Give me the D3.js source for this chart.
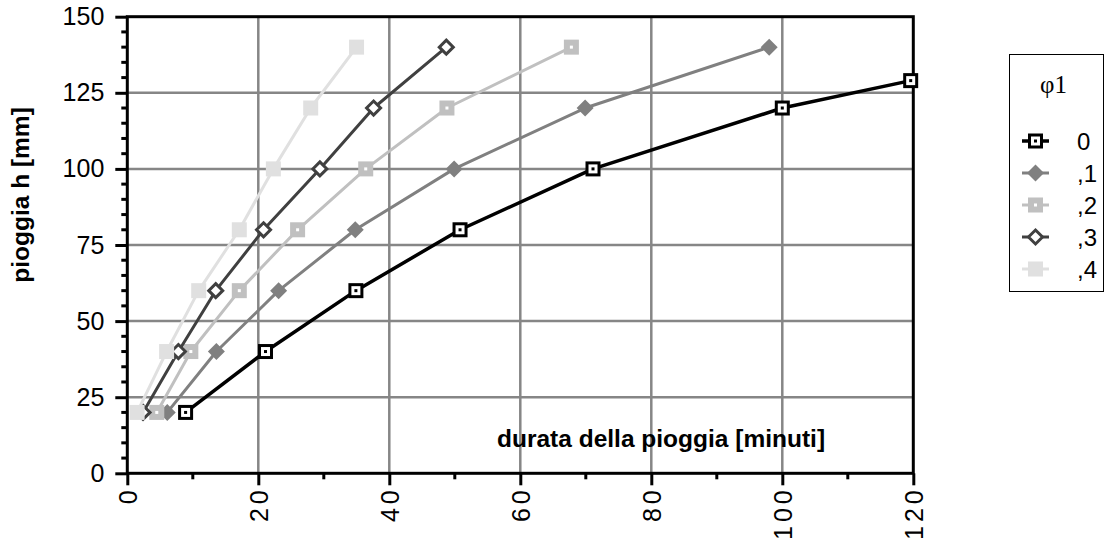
<!DOCTYPE html>
<html>
<head>
<meta charset="utf-8">
<script src="https://cdn.jsdelivr.net/npm/d3@7/dist/d3.min.js"></script>
<style>
  html, body { margin: 0; padding: 0; background: #fff; }
  svg { display: block; font-family: "Liberation Sans", Arial, Helvetica, sans-serif; }
</style>
</head>
<body>
<svg id="chart" width="1106" height="551"></svg>
<script>
// Rainfall depth h [mm] against duration t [minutes], one curve per φ1 value
const heights = [20, 40, 60, 80, 100, 120, 140];
const seriesNames = ["0", ",1", ",2", ",3", ",4"];
const durations0 = [8.9, 21.1, 34.9, 50.8, 71.1, 100.0, 119.6];
const heights0 = [20, 40, 60, 80, 100, 120, 129];
const durations1 = [6.1, 13.6, 23.1, 34.8, 49.9, 69.9, 98.0];
const durations2 = [4.5, 9.7, 17.1, 26.0, 36.4, 48.8, 67.8];
const durations3 = [2.4, 7.8, 13.5, 20.8, 29.4, 37.6, 48.7];
const durations4 = [1.5, 6.0, 10.9, 17.1, 22.3, 28.0, 35.0];
const xTicks = [0, 20, 40, 60, 80, 100, 120];
const yTicks = [0, 25, 50, 75, 100, 125, 150];
const legendTitle = "φ1";
const xTitle = "durata della pioggia [minuti]";
const yTitle = "pioggia h [mm]";

const series = [
  { name: seriesNames[0], t: durations0, h: heights0, color: "#000000", width: 3.5, marker: "squareDot" },
  { name: seriesNames[1], t: durations1, h: heights, color: "#808080", width: 3, marker: "diamondFill" },
  { name: seriesNames[2], t: durations2, h: heights, color: "#c0c0c0", width: 3, marker: "squareFillDot" },
  { name: seriesNames[3], t: durations3, h: heights, color: "#404040", width: 3, marker: "diamondOpen" },
  { name: seriesNames[4], t: durations4, h: heights, color: "#e0e0e0", width: 3, marker: "squareFill" }
];

const svg = d3.select("#chart");
const x = d3.scaleLinear().domain([0, 120]).range([127.3, 913.3]);
const y = d3.scaleLinear().domain([0, 150]).range([473.3, 16.7]);

// Grid
const grid = svg.append("g");
grid.selectAll("line.gx").data(xTicks.slice(1, -1)).join("line")
  .attr("x1", d => x(d)).attr("x2", d => x(d))
  .attr("y1", y(0)).attr("y2", y(150))
  .attr("stroke", "#868686").attr("stroke-width", 2.5);
grid.selectAll("line.gy").data(yTicks.slice(1, -1)).join("line")
  .attr("x1", x(0)).attr("x2", x(120))
  .attr("y1", d => y(d)).attr("y2", d => y(d))
  .attr("stroke", "#868686").attr("stroke-width", 2.5);

// Plot frame
svg.append("rect")
  .attr("x", x(0)).attr("y", y(150))
  .attr("width", x(120) - x(0)).attr("height", y(0) - y(150))
  .attr("fill", "none").attr("stroke", "#000").attr("stroke-width", 3);

// Y axis: major ticks every 25, minor every 5
const yAxis = svg.append("g").attr("transform", `translate(${x(0)},0)`)
  .call(d3.axisLeft(y).tickValues(yTicks).tickSize(12).tickPadding(11).tickFormat(d3.format("d")));
yAxis.select(".domain").remove();
yAxis.selectAll(".tick line").attr("stroke", "#000").attr("stroke-width", 3);
yAxis.selectAll(".tick text").attr("font-size", 25).attr("fill", "#000")
  .attr("font-family", "'Liberation Sans', Arial, sans-serif");
const yMinor = d3.range(0, 151, 5).filter(v => v % 25 !== 0);
svg.append("g").selectAll("line").data(yMinor).join("line")
  .attr("x1", x(0) - 6).attr("x2", x(0))
  .attr("y1", d => y(d)).attr("y2", d => y(d))
  .attr("stroke", "#000").attr("stroke-width", 3);

// X axis: major ticks every 20, minor every 10; labels read bottom-to-top
const xAxis = svg.append("g").attr("transform", `translate(0,${y(0)})`)
  .call(d3.axisBottom(x).tickValues(xTicks).tickSize(12).tickFormat(d3.format("d")));
xAxis.select(".domain").remove();
xAxis.selectAll(".tick line").attr("stroke", "#000").attr("stroke-width", 3);
xAxis.selectAll(".tick text")
  .attr("font-size", 25).attr("fill", "#000")
  .attr("font-family", "'Liberation Sans', Arial, sans-serif")
  .attr("letter-spacing", 4)
  .attr("text-anchor", "end")
  .attr("dy", null)
  .attr("transform", "translate(9,13) rotate(-90)")
  .attr("x", 0).attr("y", 0);
const xMinor = d3.range(10, 120, 20);
svg.append("g").selectAll("line").data(xMinor).join("line")
  .attr("x1", d => x(d)).attr("x2", d => x(d))
  .attr("y1", y(0)).attr("y2", y(0) + 6)
  .attr("stroke", "#000").attr("stroke-width", 3);

// Axis titles
svg.append("text").attr("x", 497).attr("y", 447)
  .attr("font-size", 24.5).attr("font-weight", "bold").attr("fill", "#000")
  .text(xTitle);
svg.append("text")
  .attr("transform", "translate(29,195) rotate(-90)")
  .attr("text-anchor", "middle")
  .attr("font-size", 24.5).attr("font-weight", "bold").attr("fill", "#000")
  .text(yTitle);

// Marker drawing
function drawMarker(g, type, color, cx, cy) {
  if (type === "squareDot") {
    g.append("rect").attr("x", cx - 6).attr("y", cy - 6).attr("width", 12).attr("height", 12)
      .attr("fill", "#fff").attr("stroke", color).attr("stroke-width", 3);
    g.append("rect").attr("x", cx - 1.5).attr("y", cy - 1.5).attr("width", 3).attr("height", 3).attr("fill", color);
  } else if (type === "squareFillDot") {
    g.append("rect").attr("x", cx - 7.5).attr("y", cy - 7.5).attr("width", 15).attr("height", 15).attr("fill", color);
    g.append("rect").attr("x", cx - 1.5).attr("y", cy - 1.5).attr("width", 3).attr("height", 3).attr("fill", "#fff");
  } else if (type === "squareFill") {
    g.append("rect").attr("x", cx - 7.5).attr("y", cy - 7.5).attr("width", 15).attr("height", 15).attr("fill", color);
  } else if (type === "diamondFill") {
    g.append("path").attr("d", `M${cx},${cy - 8.5}L${cx + 8.5},${cy}L${cx},${cy + 8.5}L${cx - 8.5},${cy}Z`)
      .attr("fill", color);
  } else if (type === "diamondOpen") {
    g.append("path").attr("d", `M${cx},${cy - 7}L${cx + 7},${cy}L${cx},${cy + 7}L${cx - 7},${cy}Z`)
      .attr("fill", "#fff").attr("stroke", color).attr("stroke-width", 3);
  }
}

// Curves
const line = d3.line().x(d => x(d[0])).y(d => y(d[1]));
series.forEach(s => {
  const pts = s.t.map((t, i) => [t, s.h[i]]);
  const g = svg.append("g");
  g.append("path").datum(pts).attr("d", line)
    .attr("fill", "none").attr("stroke", s.color).attr("stroke-width", s.width)
    .attr("stroke-linejoin", "round");
  pts.forEach(p => drawMarker(g, s.marker, s.color, x(p[0]), y(p[1])));
});

// Legend
const legend = svg.append("g");
legend.append("rect").attr("x", 1009.5).attr("y", 54.5).attr("width", 94).attr("height", 237)
  .attr("fill", "#fff").attr("stroke", "#000").attr("stroke-width", 1);
legend.append("text").attr("x", 1040).attr("y", 93)
  .attr("font-family", "'Liberation Serif', 'Times New Roman', serif")
  .attr("font-size", 25).attr("fill", "#000").text(legendTitle);
series.forEach((s, i) => {
  const cy = 141 + i * 32;
  const g = legend.append("g");
  g.append("line").attr("x1", 1022).attr("x2", 1049).attr("y1", cy).attr("y2", cy)
    .attr("stroke", s.color).attr("stroke-width", s.width);
  drawMarker(g, s.marker, s.color, 1035.5, cy);
  g.append("text").attr("x", 1077).attr("y", cy + 9)
    .attr("font-size", 24).attr("fill", "#000").text(s.name);
});
</script>
</body>
</html>
